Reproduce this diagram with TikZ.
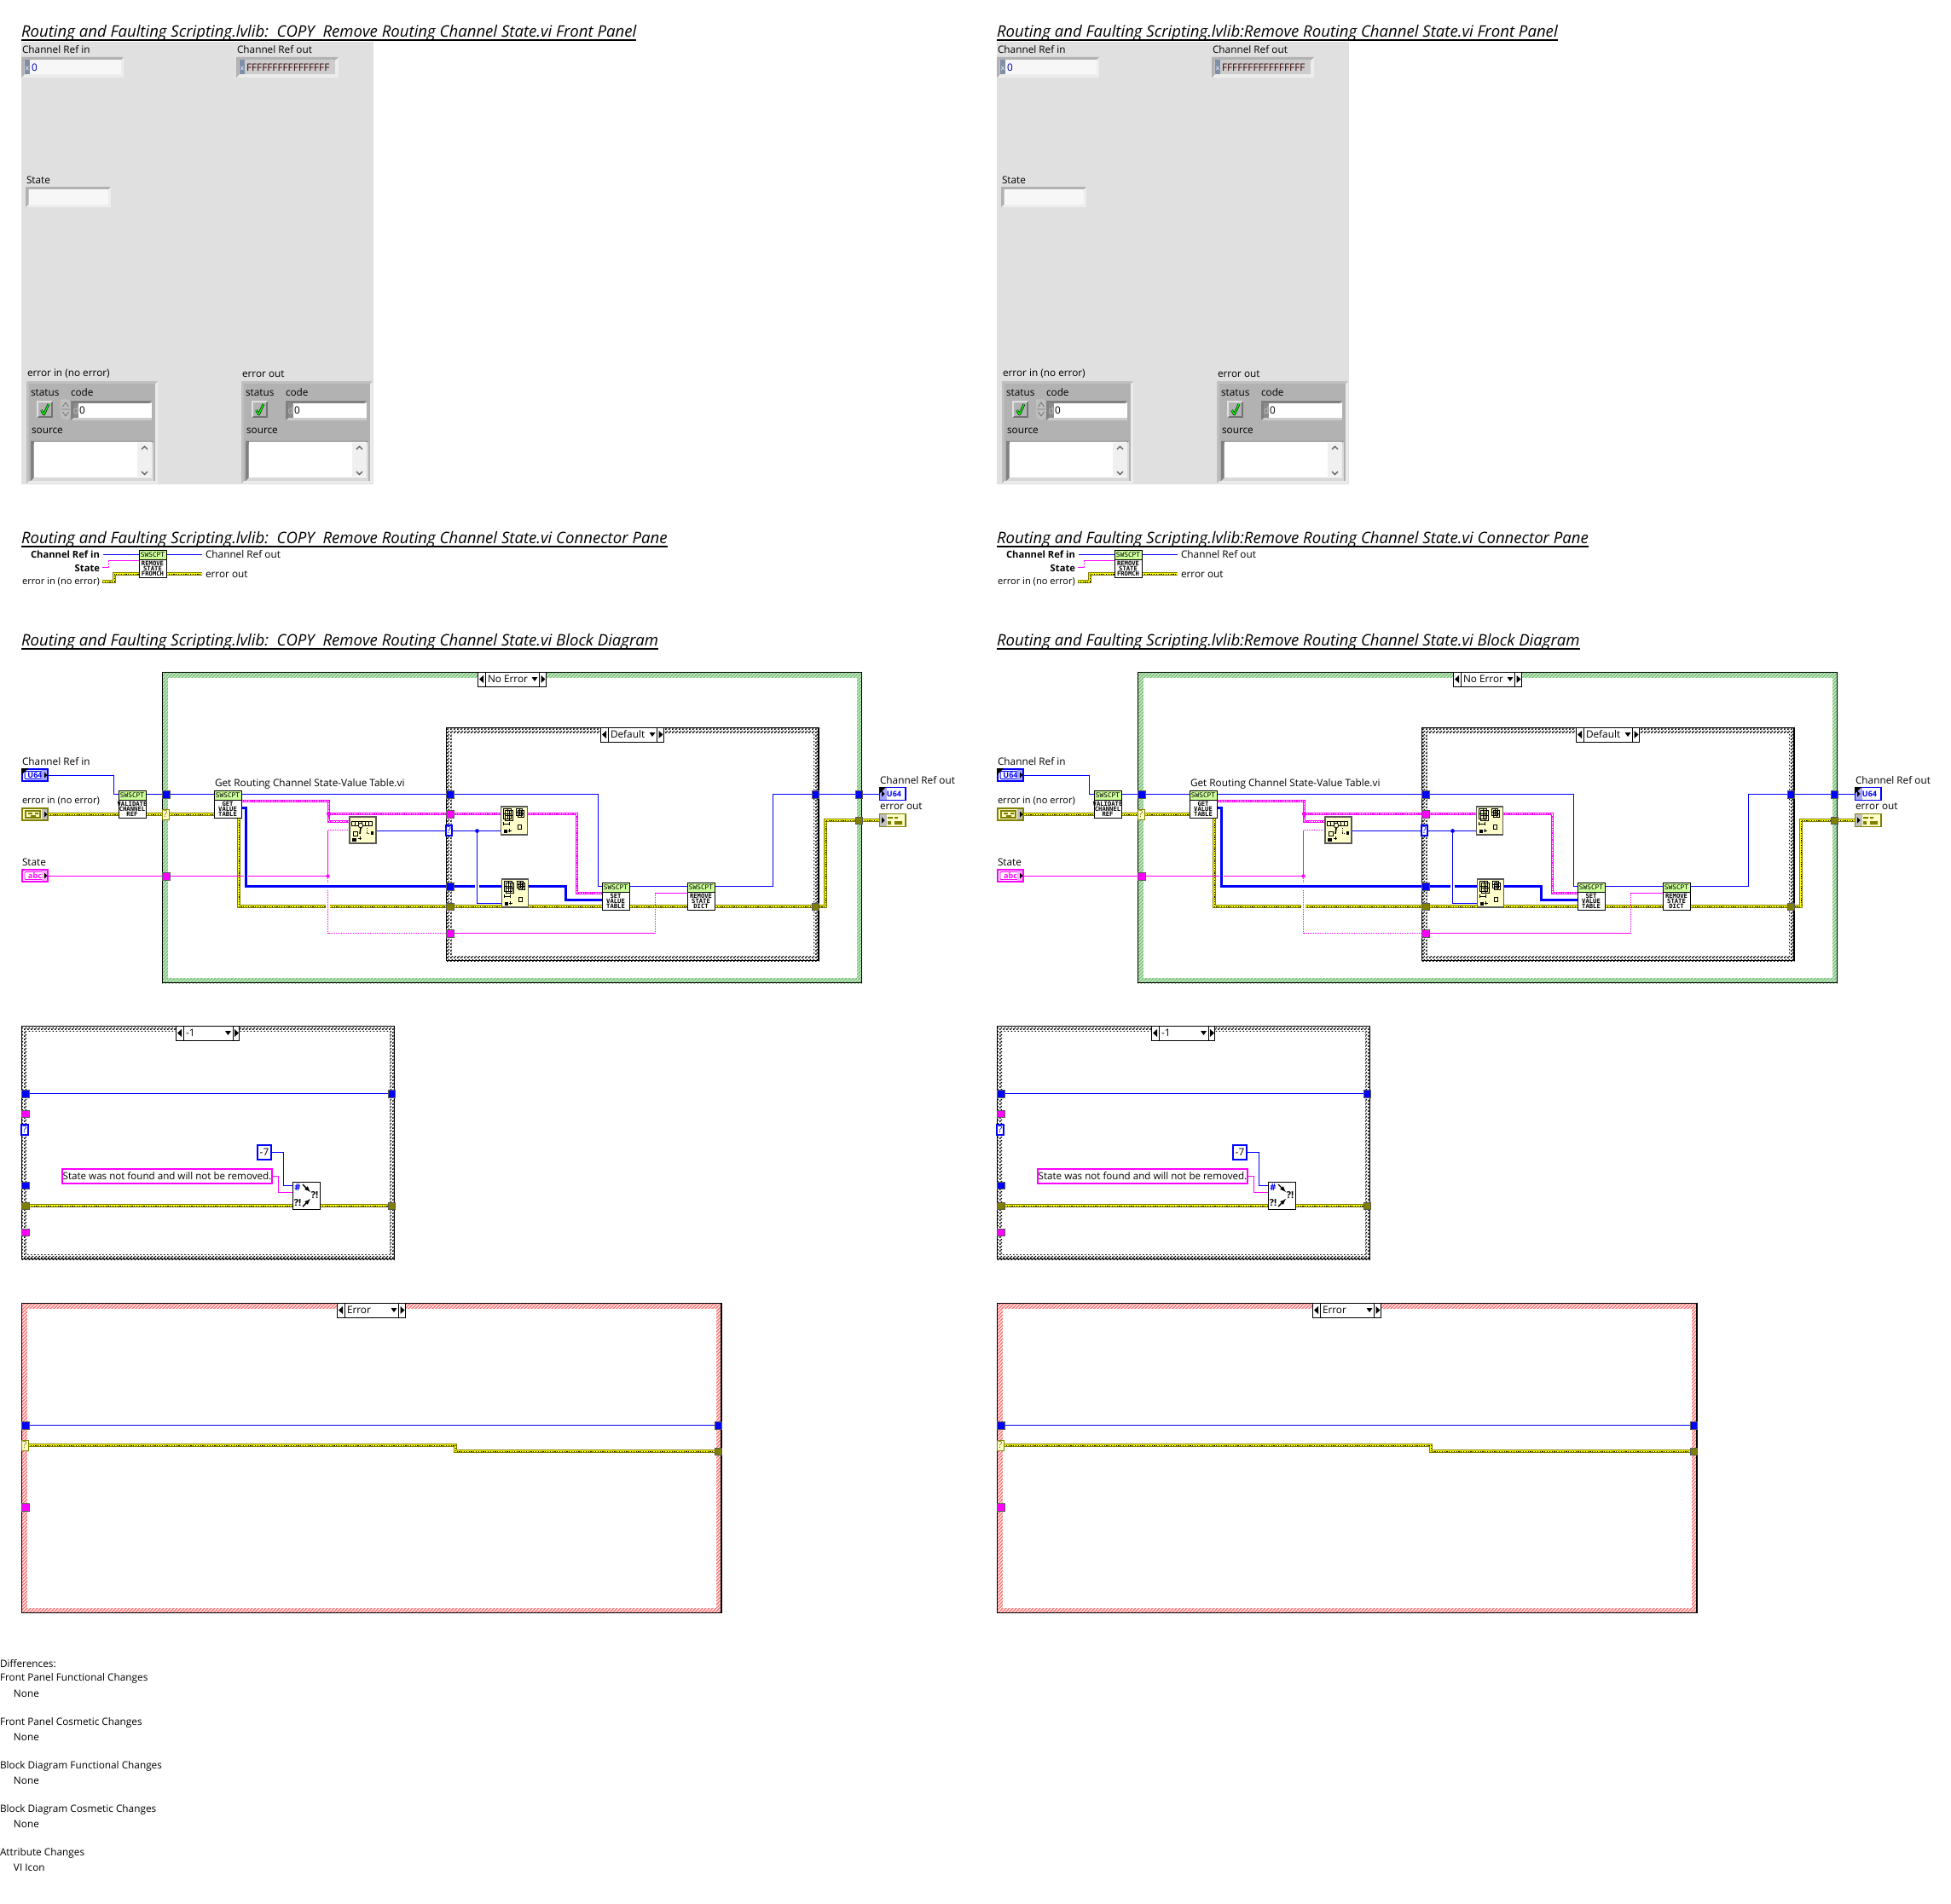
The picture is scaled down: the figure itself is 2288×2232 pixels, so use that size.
\documentclass[tikz,border=0pt]{standalone}
\usepackage{fontspec}
\setmainfont{Open Sans}
\newfontfamily\iconfont{DejaVu Sans Mono}
\usetikzlibrary{patterns}
\pgfdeclarelayer{back}\pgfdeclarelayer{wire}\pgfsetlayers{back,wire,main}
\pgfdeclarepatternformonly{lvcheck}{\pgfpointorigin}{\pgfqpoint{4pt}{4pt}}{\pgfqpoint{4pt}{4pt}}{%
 \pgfpathrectangle{\pgfpointorigin}{\pgfqpoint{2pt}{2pt}}%
 \pgfpathrectangle{\pgfqpoint{2pt}{2pt}}{\pgfqpoint{2pt}{2pt}}\pgfusepath{fill}}
\pgfdeclarepatternformonly{lvhatch}{\pgfqpoint{-1pt}{-1pt}}{\pgfqpoint{5pt}{5pt}}{\pgfqpoint{4pt}{4pt}}{%
 \pgfsetlinewidth{.9pt}\pgfpathmoveto{\pgfqpoint{-1pt}{-1pt}}\pgfpathlineto{\pgfqpoint{5pt}{5pt}}\pgfusepath{stroke}}
\definecolor{wblue}{HTML}{0000FF}
\definecolor{wpink}{HTML}{FF00FF}
\definecolor{wyel}{HTML}{FFFF00}
\definecolor{wolive}{HTML}{808000}
\definecolor{panelgray}{HTML}{E0E0E0}
\definecolor{clustergray}{HTML}{B2B2B2}
\definecolor{primyel}{HTML}{FFFFCC}
\definecolor{swgreen}{HTML}{CCFF99}
\definecolor{radix}{HTML}{7F8FA8}
\definecolor{frgreen}{HTML}{B4F4B4}
\definecolor{frgreenh}{HTML}{86A886}
\definecolor{frred}{HTML}{FF7878}
\tikzset{
 lbl/.style={anchor=west,inner sep=0pt,outer sep=0pt,font=\fontsize{11.8}{14}\selectfont},
 lbln/.style={anchor=west,inner sep=0pt,outer sep=0pt,font=\fontsize{11.1}{14}\selectfont},
 lblb/.style={anchor=east,inner sep=0pt,outer sep=0pt,font=\fontsize{11.2}{14}\selectfont\bfseries},
 ttl/.style={anchor=base west,inner sep=0pt,outer sep=0pt,font=\fontsize{18.6}{20}\selectfont\itshape},
 rule/.style={line width=2pt,black},
 box/.style={inner sep=0pt,outer sep=0pt,line width=1pt},
 bluew/.style={draw=wblue,line width=1pt,line join=miter},
 bluet/.style={draw=wblue,line width=3pt,line join=miter},
 pinkw/.style={draw=wpink,line width=1.1pt,dash pattern=on 1.5pt off .5pt,line join=miter},
 pinkt/.style={draw=wpink,line width=3pt,line join=miter,postaction={draw=white,line width=1.2pt,dash pattern=on 1.5pt off 1.2pt}},
 yelw/.style={draw=wolive,line width=4pt,line join=miter,postaction={draw=wyel,line width=2.4pt},postaction={draw=black,line width=1pt,dash pattern=on 1.2pt off 1.6pt}},
 tunblue/.style={box,fill=wblue,draw=black!65},
 tunpink/.style={box,fill=wpink,draw=black!65},
 tunolive/.style={box,fill=wolive,draw=black!65},
 tunq/.style={box,fill=white,draw=wblue,line width=1.3pt,font=\fontsize{11}{11}\selectfont,text=wblue},
 tunqy/.style={box,fill=primyel,draw=wolive,font=\fontsize{11}{11}\selectfont,text=wolive},
 subbox/.style={box,fill=white,draw=black},
 subtop/.style={box,fill=swgreen,draw=black,font=\iconfont\fontsize{7.8}{8}\selectfont},
 subtxt/.style={inner sep=0pt,outer sep=0pt,align=center,font=\iconfont\bfseries\fontsize{7.2}{6.1}\selectfont},
 primbox/.style={box,fill=primyel,draw=black!65,line width=1.4pt},
 seltxt/.style={anchor=west,inner sep=0pt,outer sep=0pt,font=\fontsize{11.8}{14}\selectfont},
}
% rectangular node given by its corners
\newcommand\bx[7][]{\pgfmathsetmacro\lvcx{(#3+#5)/2}\pgfmathsetmacro\lvcy{(#4+#6)/2}%
 \pgfmathsetmacro\lvw{abs(#5-(#3))}\pgfmathsetmacro\lvh{abs(#6-(#4))}%
 \node[box,minimum width=\lvw pt,minimum height=\lvh pt,#1] (#2) at (\lvcx,\lvcy) {#7};}
\newcommand\lvbevel[7]{\fill[#7] (#1,#2) rectangle (#3,#4);
 \fill[#6] (#1,#2) -- (#3,#2) -- ({#3-#5},{#2+#5}) -- ({#1+#5},{#2+#5}) -- ({#1+#5},{#4-#5}) -- (#1,#4) -- cycle;}
% structure frame
\newcommand\lvframe[7]{\begin{pgfonlayer}{back}
 \bx[fill=#6]{#1}{#2}{#3}{#4}{#5}{}
 \fill[pattern=#7] (#2,#3) rectangle (#4,#5);
 \fill[white] ({#2+6.5},{#3+6.5}) rectangle ({#4-6.5},{#5-6.5});
 \draw[black,line width=1.2pt] ({#2+.6},{#3+.6}) rectangle ({#4-.6},{#5-.6});
 \end{pgfonlayer}}
% case selector
\newcommand\lvsel[5]{\bx[fill=white,draw=black]{#1}{#2+.5}{#4+.5}{#3-.5}{#4+17}{}
 \draw[black] ({#2+9},#4) -- ({#2+9},{#4+17}) ({#3-8},#4) -- ({#3-8},{#4+17});
 \fill[black] ({#2+2},{#4+8.5}) -- ({#2+7},{#4+4}) -- ({#2+7},{#4+13}) -- cycle;
 \fill[black] ({#3-6},{#4+4}) -- ({#3-1},{#4+8.5}) -- ({#3-6},{#4+13}) -- cycle;
 \fill[black] ({#3-17},{#4+6}) -- ({#3-10},{#4+6}) -- ({#3-13.5},{#4+11}) -- cycle;
 \node[seltxt] (#1-t) at ({#2+12},{#4+8.5}) {#5};}
% SubVI icon
\newcommand\subvi[5]{\bx[subbox]{#1}{#2}{#3}{#2+32}{#3+32}{}
 \bx[subtop]{#1-top}{#2}{#3}{#2+32}{#3+11.5}{SWSCPT}
 \node[subtxt] (#1-txt) at ({#2+16},{#3+21.5}) {#4\\#5};}
% small grids of the array primitives
\newcommand\lvgrid[4]{\draw[black,line width=.7pt] (#1,#2) rectangle ({#1+#3},{#2+#4});
 \draw[black,line width=.5pt] ({#1+#3/2},#2) -- ({#1+#3/2},{#2+#4}) (#1,{#2+#4/2}) -- ({#1+#3},{#2+#4/2});}
\newcommand\delprim[3]{\bx[primbox]{#1}{#2}{#3}{#2+31}{#3+33}{}
 \lvgrid{#2+5}{#3+4}{9}{12}\lvgrid{#2+3}{#3+2}{9}{12}
 \lvgrid{#2+20}{#3+4}{7}{8}\lvgrid{#2+18}{#3+2}{7}{8}
 \draw[black,line width=.7pt] ({#2+3},{#3+20}) -- ({#2+10},{#3+20}) ({#2+3},{#3+18}) -- ({#2+3},{#3+22}) ({#2+10},{#3+18}) -- ({#2+10},{#3+22});
 \fill[black] ({#2+3},{#3+27}) rectangle ({#2+7},{#3+31});
 \draw[black,line width=.7pt] ({#2+10},{#3+26}) -- ({#2+10},{#3+30}) ({#2+8},{#3+28}) -- ({#2+12},{#3+28});
 \draw[black,line width=1pt] ({#2+20},{#3+21}) rectangle ({#2+24},{#3+26});}
% error cluster
\newcommand\lvcluster[3]{\def\xo{#1}
 \node[lbl] (#2-l) at (\xo+1,438.5) {#3};
 \lvbevel{\xo}{447}{\xo+154}{567}{3}{black!25}{black!8}
 \fill[clustergray] (\xo+3,450) rectangle (\xo+151,564);
 \node[lbl] (#2-s) at (\xo+5,461) {status};
 \node[lbl] (#2-c) at (\xo+52,460) {code};
 \lvbevel{\xo+12}{470}{\xo+31}{490}{2}{black!12}{black!55}
 \fill[black!30] (\xo+14,472) rectangle (\xo+29,488);
 \draw[black,line width=2.6pt,line join=round] (\xo+17.5,481) -- (\xo+20.5,486) -- (\xo+26,474);
 \draw[green,line width=1.4pt,line join=round] (\xo+17.5,481) -- (\xo+20.5,486) -- (\xo+26,474);
 \lvbevel{\xo+52}{470}{\xo+147}{493}{3}{black!50}{black!20}
 \fill[white] (\xo+61,473) rectangle (\xo+147,490);
 \fill[black!45] (\xo+55,473) rectangle (\xo+61,490);
 \node[inner sep=0pt,text=black!25,font=\fontsize{11}{11}\selectfont] (#2-d) at (\xo+58,481.5) {d};
 \node[lbl] (#2-z) at (\xo+62,481.5) {0};
 \node[lbl] (#2-o) at (\xo+6,505) {source};
 \lvbevel{\xo+5}{517}{\xo+149}{564}{3.5}{black!50}{black!15}
 \fill[white] (\xo+9,518) rectangle (\xo+147,560);
 \fill[black!6] (\xo+130,519) rectangle (\xo+147,559);
 \draw[black!65,line width=1.2pt] (\xo+135,527) -- (\xo+138.5,523.5) -- (\xo+142,527) (\xo+135,553) -- (\xo+138.5,556.5) -- (\xo+142,553);
}
% one whole column of the report
\newcommand\lvcolumn[3]{\begin{scope}[shift={(#1,0)},name prefix=#2-]
 % ---------- front panel
 \node[ttl] (fpt) at (25,44) {#3 Front Panel};
 \draw[rule] (fpt.west |- 0,47) -- (fpt.east |- 0,47);
 \bx[fill=panelgray]{fp}{25}{49}{438}{568}{}
 \node[lbl] (lcri) at (26,58) {Channel Ref in};
 \lvbevel{25}{67}{145}{91}{3.5}{black!30}{black!7}
 \fill[white!97!black] (29,70) rectangle (142,87);
 \fill[radix] (29,70) rectangle (35,87);
 \node[inner sep=0pt,text=white,font=\fontsize{8}{8}\selectfont] (rcri) at (32,80) {x};
 \node[lbl,text=wblue!70!black] (vcri) at (37,79) {0};
 \node[lbl] (lcro) at (278,58) {Channel Ref out};
 \lvbevel{277}{67}{397}{91}{3.5}{black!30}{black!7}
 \fill[black!20] (281,70) rectangle (393,87);
 \fill[radix] (281,70) rectangle (287,87);
 \node[inner sep=0pt,text=white,font=\fontsize{8}{8}\selectfont] (rcro) at (284,80) {x};
 \node[lbl,text=red!22!black] (vcro) at (289,79) {FFFFFFFFFFFFFFFF};
 \node[lbl] (lst) at (31,211) {State};
 \lvbevel{30}{219}{130}{243}{3.5}{black!30}{black!7}
 \fill[white!97!black] (34,222) rectangle (127,240);
 \lvcluster{31}{ein}{error in (no error)}
 \fill[black!25] (71,468) .. controls (71,470) and (71,468) .. (77,468) .. controls (83,468) and (83,472) .. (83,480) .. controls (83,488) and (83,492) .. (77,492) .. controls (71,492) and (71,488) .. (71,480) -- cycle;
 \draw[black!55,line width=.8pt] (73.5,477) -- (77,472) -- (80.5,477) (73.5,483) -- (77,488) -- (80.5,483) (72,480) -- (82,480);
 \lvcluster{283}{eout}{error out}
 % ---------- connector pane
 \node[ttl] (cpt) at (25,637) {#3 Connector Pane};
 \draw[rule] (cpt.west |- 0,640.5) -- (cpt.east |- 0,640.5);
 \subvi{cp}{163}{645}{REMOVE\\STATE}{FROMCH}
 \node[lblb] (cl1) at (117,650) {Channel Ref in};
 \node[lblb] (cl2) at (117,666) {State};
 \node[lbln,anchor=east] (cl3) at (117,682) {error in (no error)};
 \node[lbl] (cl4) at (241,650) {Channel Ref out};
 \node[lbl] (cl5) at (241,674) {error out};
 \begin{pgfonlayer}{wire}
  \draw[bluew] (cl1.east |- 0,650.5) ++(4,0) -- (cp.west |- 0,650.5);
  \draw[bluew] (cp.east |- 0,650.5) -- (237,650.5);
  \draw[pinkw] (cl2.east |- 0,665.5) ++(3,0) -- (127.5,665.5) -- (127.5,657.5) -- (cp.west |- 0,657.5);
  \draw[yelw] (cl3.east |- 0,682) ++(3,0) -- (134,682) -- (134,673) -- (cp.west |- 0,673);
  \draw[yelw] (cp.east |- 0,673) -- (237,673);
 \end{pgfonlayer}
 % ---------- block diagram, No Error case
 \node[ttl] (bdt) at (25,757) {#3 Block Diagram};
 \draw[rule] (bdt.west |- 0,761) -- (bdt.east |- 0,761);
 \lvframe{green}{190}{788}{1011}{1153}{frgreen}{lvhatch,pattern color=frgreenh}
 \lvsel{selne}{560}{640.5}{788}{No Error}
 \lvframe{dflt}{523}{853}{960.5}{1127}{white}{lvcheck,pattern color=black}
 \lvsel{seldf}{704}{778.5}{853}{Default}
 % terminals
 \node[lbl] (lt1) at (26,893) {Channel Ref in};
 \bx[fill=white,draw=wblue,line width=2pt]{tcri}{26}{902}{56}{916}{}
 \bx[rounded corners=1pt,draw=wblue,line width=1pt,text=wblue,font=\bfseries\fontsize{9}{9}\selectfont]{tcrii}{29}{904.5}{53}{913.5}{U64}
 \fill[black] (25,901) -- (33,901) -- (25,909) -- cycle;
 \fill[wblue!35] (49,903) rectangle (55,915);
 \fill[black] (52,905.5) -- (55.5,909) -- (52,912.5) -- cycle;
 \node[lbln] (lt2) at (26,939) {error in (no error)};
 \bx[fill=primyel,draw=wolive,line width=2pt]{teri}{26}{948}{56}{962}{}
 \fill[black!25] (49,949) rectangle (55,961);
 \fill[black] (52,951.5) -- (55.5,955) -- (52,958.5) -- cycle;
 \draw[wolive,line width=1.2pt] (30,951) rectangle (47,959);
 \fill[wolive] (33,953) rectangle (38,955) (41,953) rectangle (45,955) (36,956) rectangle (42,958);
 \node[lbl] (lt3) at (26,1011) {State};
 \bx[fill=white,draw=wpink,line width=2pt]{tst}{26}{1020}{56}{1034}{}
 \bx[rounded corners=1pt,draw=wpink,line width=.8pt,text=wpink,font=\bfseries\fontsize{9}{9}\selectfont]{tsti}{29}{1022.5}{53}{1031.5}{abc}
 \fill[wpink!30] (49,1021) rectangle (55,1033);
 \fill[black] (52,1023.5) -- (55.5,1027) -- (52,1030.5) -- cycle;
 \node[lbl] (lt4) at (1032,915) {Channel Ref out};
 \bx[fill=white,draw=wblue,line width=1.2pt]{tcro}{1031.5}{923.5}{1062}{938.5}{}
 \bx[text=wblue,font=\bfseries\fontsize{9}{9}\selectfont]{tcroi}{1037}{925}{1060}{937}{U64}
 \fill[wblue!35] (1032,924) rectangle (1040,938);
 \fill[black] (1031,923) -- (1039,923) -- (1031,931) -- cycle;
 \fill[black] (1034,927.5) -- (1037.5,931) -- (1034,934.5) -- cycle;
 \node[lbl] (lt5) at (1032,946) {error out};
 \bx[fill=primyel,draw=wolive,line width=1.2pt]{tero}{1031.5}{954.5}{1062}{969.5}{}
 \fill[black!25] (1032,955) rectangle (1040,969);
 \fill[black] (1034,958.5) -- (1037.5,962) -- (1034,965.5) -- cycle;
 \fill[wolive] (1041,958) rectangle (1047,960) (1049,958) rectangle (1053,960) (1041,963) rectangle (1045,967) (1049,963) rectangle (1058,967);
 % tunnels
 \bx[tunblue]{tb1}{190}{927}{199}{936}{}
 \bx[tunqy]{tq1}{190}{949}{198}{961}{?}
 \bx[tunpink]{tp1}{190}{1023}{199}{1032}{}
 \bx[tunblue]{tb2}{523}{927}{532}{936}{}
 \bx[tunpink]{tp2}{523}{950}{532}{959}{}
 \bx[tunq]{tq2}{523}{968}{530}{980}{?}
 \bx[tunblue]{tb3}{523}{1035}{532}{1044}{}
 \bx[tunolive]{ty2}{523}{1059}{532}{1067}{}
 \bx[tunpink]{tp3}{523}{1090}{532}{1099}{}
 \bx[tunblue]{tb4}{952}{927}{960.5}{936}{}
 \bx[tunolive]{ty3}{952}{1059}{960.5}{1067}{}
 \bx[tunblue]{tb5}{1003}{927}{1011}{936}{}
 \bx[tunolive]{ty4}{1003}{958}{1011}{966}{}
 % nodes
 \subvi{s1}{139}{927}{VALIDATE\\CHANNEL}{REF}
 \subvi{s2}{251}{927}{GET\\VALUE}{TABLE}
 \node[lbl] (ls2) at (252,919) {Get Routing Channel State-Value Table.vi};
 \subvi{s3}{706}{1035}{SET\\VALUE}{TABLE}
 \subvi{s4}{806}{1035}{REMOVE\\STATE}{DICT}
 \bx[primbox]{ps}{410}{958}{441}{989}{}
 \foreach \gx in {412,416,420,424,428,432} {\draw[black,line width=.7pt] (\gx,963) rectangle ++(4,5);}
 \draw[black,line width=.8pt,fill=primyel] (423,968) circle (2.8);
 \draw[black,line width=1.6pt] (423,971) -- (422,978);
 \draw[black,line width=.7pt] (414,975) rectangle (419,980);
 \draw[black,line width=.7pt,dotted] (430,971) -- (430,977) -- (435,977);
 \fill[black] (435,975) rectangle (438,979);
 \fill[black] (413,983) rectangle (418,987);
 \draw[black,line width=.7pt] (422,981) -- (422,985) (420,983) -- (424,983);
 \delprim{pa}{587.5}{946}
 \delprim{pb}{588.5}{1031}
 % wires
 \begin{pgfonlayer}{wire}
  \draw[bluew] (tcri.east |- 0,909.5) -- (133.5,909.5) -- (133.5,931.5) -- (s1.west |- 0,931.5);
  \draw[bluew] (s1.east |- 0,931.5) -- (tb1.west);
  \draw[bluew] (tb1.east) -- (s2.west |- tb1);
  \draw[bluew] (s2.east |- tb1) -- (tb2.west);
  \draw[bluew] (tb2.east) -- (701.5,931.5) -- (701.5,1039.5) -- (s3.west |- 0,1039.5);
  \draw[bluew] (s3.east |- 0,1039.5) -- (s4.west |- 0,1039.5);
  \draw[bluew] (s4.east |- 0,1039.5) -- (906.5,1039.5) -- (906.5,931.5) -- (tb4.west);
  \draw[bluew] (tb4.east) -- (tb5.west);
  \draw[bluew] (tb5.east) -- (tcro.west |- tb5);
  \draw[bluew] (ps.east |- 0,974.5) -- (tq2.west |- 0,974.5);
  \draw[bluew] (tq2.east |- 0,974.5) -- (pa.west |- 0,974.5);
  \draw[bluew] (559.5,974.5) -- (559.5,1059.5) -- (pb.west |- 0,1059.5);
  \fill[wblue] (559.5,974.5) circle (2.4);
  \draw[yelw] (teri.east) -- (s1.west |- teri);
  \draw[yelw] (s1.east |- teri) -- (tq1.west |- teri);
  \draw[yelw] (tq1.east |- teri) -- (s2.west |- teri);
  \draw[yelw] (280,959) -- (280,1063) -- (ty2.west);
  \draw[yelw] (ty2.east) -- (s3.west |- ty2);
  \draw[yelw] (s3.east |- ty2) -- (s4.west |- ty2);
  \draw[yelw] (s4.east |- ty2) -- (ty3.west);
  \draw[yelw] (ty3.east) -- (968,1063) -- (968,962) -- (ty4.west);
  \draw[yelw] (ty4.east) -- (tero.west |- ty4);
  \fill[white] (382,1060) rectangle (387,1066);
  \draw[pinkw] (tst.east |- tp1) -- (tp1.west);
  \draw[pinkw] (tp1.east) -- (384.5,1027.5);
  \fill[wpink] (384.5,1027.5) circle (2.2);
  \draw[pinkw] (384.5,1027.5) -- (384.5,973.5) -- (ps.west |- 0,973.5);
  \draw[pinkw] (384.5,1027.5) -- (384.5,1094.5) -- (tp3.west);
  \draw[pinkw] (tp3.east) -- (768.5,1094.5) -- (768.5,1047.5) -- (s4.west |- 0,1047.5);
  \draw[pinkt] (s2.east |- 0,939.5) -- (385.5,939.5) -- (385.5,963.5) -- (ps.west |- 0,963.5);
  \draw[pinkt] (385.5,954.5) -- (tp2.west);
  \fill[wpink] (385.5,954.5) circle (2.6);
  \draw[pinkt] (tp2.east) -- (pa.west |- tp2);
  \draw[pinkt] (pa.east |- tp2) -- (676.5,954.5) -- (676.5,1047.5) -- (s3.west |- 0,1047.5);
  \fill[white] (286,1024.5) rectangle (291,1030.5);
  \fill[white] (381,1036) rectangle (388,1043);
  \draw[bluet] (s2.east |- 0,947) -- (288.5,947) -- (288.5,1039.5) -- (tb3.west);
  \draw[bluet] (tb3.east) -- (557,1039.5);
  \draw[bluet] (562,1039.5) -- (pb.west |- 0,1039.5);
  \draw[bluet] (pb.east |- 0,1039.5) -- (663.5,1039.5) -- (663.5,1055.5) -- (s3.west |- 0,1055.5);
 \end{pgfonlayer}
 % ---------- case -1
 \lvframe{cm1}{25}{1203}{463}{1477}{white}{lvcheck,pattern color=black}
 \lvsel{selm}{206}{281}{1203}{-1}
 \bx[tunblue]{m1}{25}{1278}{34}{1287}{}
 \bx[tunblue]{m2}{455}{1278}{463}{1287}{}
 \bx[tunpink]{m3}{25}{1302}{34}{1310}{}
 \bx[tunq]{m4}{25}{1319}{33}{1331}{?}
 \bx[tunblue]{m5}{25}{1386}{34}{1394}{}
 \bx[tunolive]{m6}{25}{1410}{34}{1418}{}
 \bx[tunolive]{m7}{455}{1410}{463}{1418}{}
 \bx[tunpink]{m8}{25}{1441}{34}{1449}{}
 \bx[fill=white,draw=wblue,line width=2pt,font=\fontsize{11.8}{14}\selectfont]{mc}{302}{1343}{318}{1360}{-7}
 \bx[fill=white,draw=wpink,line width=2pt,font=\fontsize{11.6}{14}\selectfont]{ms}{73}{1371}{319}{1388}{State was not found and will not be removed.}
 \bx[subbox]{mf}{343}{1386}{375}{1418}{}
 \node[inner sep=0pt,text=wblue,font=\bfseries\fontsize{11}{11}\selectfont] (mfa) at (349,1393) {\#};
 \node[inner sep=0pt,font=\bfseries\fontsize{11}{11}\selectfont] (mfb) at (369,1402) {?!};
 \node[inner sep=0pt,font=\bfseries\fontsize{11}{11}\selectfont] (mfc) at (349,1411) {?!};
 \draw[-latex,black,line width=1.4pt] (355,1389) -- (364,1398);
 \draw[-latex,black,line width=1.4pt] (355,1415) -- (364,1406);
 \begin{pgfonlayer}{wire}
  \draw[bluew] (m1.east) -- (m2.west);
  \draw[bluew] (mc.east |- 0,1351.5) -- (332.5,1351.5) -- (332.5,1390.5) -- (mf.west |- 0,1390.5);
  \draw[pinkw] (ms.east |- 0,1379.5) -- (326.5,1379.5) -- (326.5,1398.5) -- (mf.west |- 0,1398.5);
  \draw[yelw] (m6.east) -- (mf.west |- m6);
  \draw[yelw] (mf.east |- m6) -- (m7.west);
 \end{pgfonlayer}
 % ---------- case Error
 \lvframe{cer}{25}{1528}{846.5}{1892}{frred}{lvhatch,pattern color=white}
 \lvsel{sele}{395}{475.5}{1528}{Error}
 \bx[tunblue]{e1}{25}{1667}{34}{1676}{}
 \bx[tunblue]{e2}{838}{1667}{846.5}{1676}{}
 \bx[tunqy]{e3}{25}{1689}{33}{1701}{?}
 \bx[tunolive]{e4}{838}{1698}{846.5}{1706}{}
 \bx[tunpink]{e5}{25}{1763}{34}{1772}{}
 \begin{pgfonlayer}{wire}
  \draw[bluew] (e1.east) -- (e2.west);
  \draw[yelw] (e3.east) -- (534,1695) -- (534,1702) -- (e4.west);
 \end{pgfonlayer}
 \end{scope}}
\begin{document}
\begin{tikzpicture}[x=1pt,y=-1pt]
\useasboundingbox (0,0) rectangle (2288,2232);
\begin{pgfonlayer}{back}\fill[white] (0,0) rectangle (2288,2232);\end{pgfonlayer}
\lvcolumn{0}{lft}{Routing and Faulting Scripting.lvlib:\ \ COPY\ \ Remove Routing Channel State.vi}
\lvcolumn{1144}{rgt}{Routing and Faulting Scripting.lvlib:Remove Routing Channel State.vi}
\foreach \i/\tx/\ty/\tt in {1/0/1951/Differences:,2/0/1968/Front Panel Functional Changes,3/16/1986/None,4/0/2020/Front Panel Cosmetic Changes,5/16/2037/None,6/0/2071/Block Diagram Functional Changes,7/16/2088/None,8/0/2122/Block Diagram Cosmetic Changes,9/16/2139/None,10/0/2173/Attribute Changes,11/16/2190/VI Icon} {
 \node[lbl] (d\i) at (\tx,\ty) {\tt};
}
\end{tikzpicture}
\end{document}
